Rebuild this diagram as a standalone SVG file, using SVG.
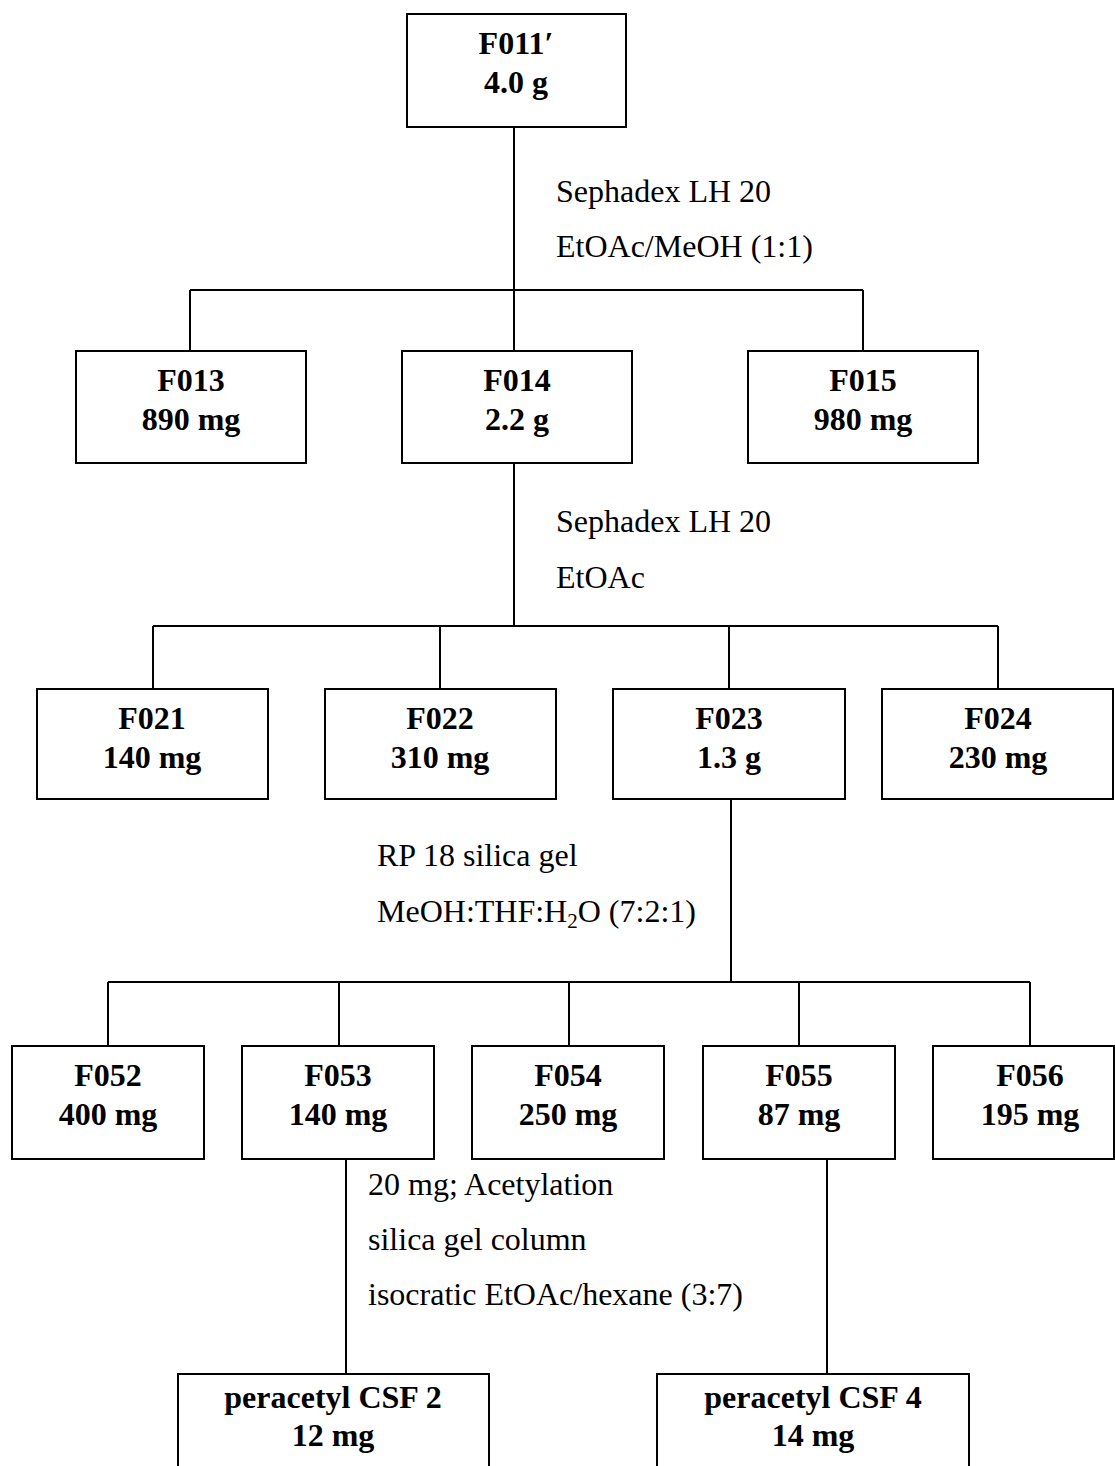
<svg xmlns="http://www.w3.org/2000/svg" width="1115" height="1466" viewBox="0 0 1115 1466">
<style>
.box{fill:#fff;stroke:#000;stroke-width:2}
.c line{stroke:#000;stroke-width:2}
.n{font-family:"Liberation Serif","Times New Roman",serif;font-size:32px;font-weight:bold;text-anchor:middle;fill:#000}
.l{font-family:"Liberation Serif","Times New Roman",serif;font-size:32px;fill:#000}
</style>
<rect width="1115" height="1466" fill="#fff"/>
<g class="c" id="connectors">
<line x1="514" y1="127" x2="514" y2="290"/>
<line x1="190" y1="290" x2="863" y2="290"/>
<line x1="190" y1="290" x2="190" y2="351"/>
<line x1="514" y1="290" x2="514" y2="351"/>
<line x1="863" y1="290" x2="863" y2="351"/>
<line x1="514" y1="463" x2="514" y2="626"/>
<line x1="153" y1="626" x2="998" y2="626"/>
<line x1="153" y1="626" x2="153" y2="689"/>
<line x1="440" y1="626" x2="440" y2="689"/>
<line x1="729" y1="626" x2="729" y2="689"/>
<line x1="998" y1="626" x2="998" y2="689"/>
<line x1="731" y1="799" x2="731" y2="982"/>
<line x1="108" y1="982" x2="1030" y2="982"/>
<line x1="108" y1="982" x2="108" y2="1046"/>
<line x1="339" y1="982" x2="339" y2="1046"/>
<line x1="569" y1="982" x2="569" y2="1046"/>
<line x1="799" y1="982" x2="799" y2="1046"/>
<line x1="1030" y1="982" x2="1030" y2="1046"/>
<line x1="346" y1="1159" x2="346" y2="1374"/>
<line x1="827" y1="1159" x2="827" y2="1374"/>
</g>
<g id="labels">
<text class="l" x="556" y="202">Sephadex LH 20</text>
<text class="l" x="556" y="257">EtOAc/MeOH (1:1)</text>
<text class="l" x="556" y="532">Sephadex LH 20</text>
<text class="l" x="556" y="588">EtOAc</text>
<text class="l" x="377" y="866">RP 18 silica gel</text>
<text class="l" x="377" y="922">MeOH:THF:H<tspan font-size="21" dy="6">2</tspan><tspan dy="-6">O (7:2:1)</tspan></text>
<text class="l" x="368" y="1195">20 mg; Acetylation</text>
<text class="l" x="368" y="1250">silica gel column</text>
<text class="l" x="368" y="1305">isocratic EtOAc/hexane (3:7)</text>
</g>
<g id="F011">
<rect class="box" x="407" y="14" width="219" height="113"/>
<text class="n" x="516" y="54">F011′</text>
<text class="n" x="516" y="93">4.0 g</text>
</g>
<g id="F013">
<rect class="box" x="76" y="351" width="230" height="112"/>
<text class="n" x="191" y="391">F013</text>
<text class="n" x="191" y="430">890 mg</text>
</g>
<g id="F014">
<rect class="box" x="402" y="351" width="230" height="112"/>
<text class="n" x="517" y="391">F014</text>
<text class="n" x="517" y="430">2.2 g</text>
</g>
<g id="F015">
<rect class="box" x="748" y="351" width="230" height="112"/>
<text class="n" x="863" y="391">F015</text>
<text class="n" x="863" y="430">980 mg</text>
</g>
<g id="F021">
<rect class="box" x="37" y="689" width="231" height="110"/>
<text class="n" x="152" y="729">F021</text>
<text class="n" x="152" y="768">140 mg</text>
</g>
<g id="F022">
<rect class="box" x="325" y="689" width="231" height="110"/>
<text class="n" x="440" y="729">F022</text>
<text class="n" x="440" y="768">310 mg</text>
</g>
<g id="F023">
<rect class="box" x="613" y="689" width="232" height="110"/>
<text class="n" x="729" y="729">F023</text>
<text class="n" x="729" y="768">1.3 g</text>
</g>
<g id="F024">
<rect class="box" x="882" y="689" width="231" height="110"/>
<text class="n" x="998" y="729">F024</text>
<text class="n" x="998" y="768">230 mg</text>
</g>
<g id="F052">
<rect class="box" x="12" y="1046" width="192" height="113"/>
<text class="n" x="108" y="1086">F052</text>
<text class="n" x="108" y="1125">400 mg</text>
</g>
<g id="F053">
<rect class="box" x="242" y="1046" width="192" height="113"/>
<text class="n" x="338" y="1086">F053</text>
<text class="n" x="338" y="1125">140 mg</text>
</g>
<g id="F054">
<rect class="box" x="472" y="1046" width="192" height="113"/>
<text class="n" x="568" y="1086">F054</text>
<text class="n" x="568" y="1125">250 mg</text>
</g>
<g id="F055">
<rect class="box" x="703" y="1046" width="192" height="113"/>
<text class="n" x="799" y="1086">F055</text>
<text class="n" x="799" y="1125">87 mg</text>
</g>
<g id="F056">
<rect class="box" x="933" y="1046" width="181" height="113"/>
<text class="n" x="1030" y="1086">F056</text>
<text class="n" x="1030" y="1125">195 mg</text>
</g>
<g id="CSF2">
<rect class="box" x="178" y="1374" width="311" height="110"/>
<text class="n" x="333" y="1408">peracetyl CSF 2</text>
<text class="n" x="333" y="1446">12 mg</text>
</g>
<g id="CSF4">
<rect class="box" x="657" y="1374" width="312" height="110"/>
<text class="n" x="813" y="1408">peracetyl CSF 4</text>
<text class="n" x="813" y="1446">14 mg</text>
</g>
</svg>
